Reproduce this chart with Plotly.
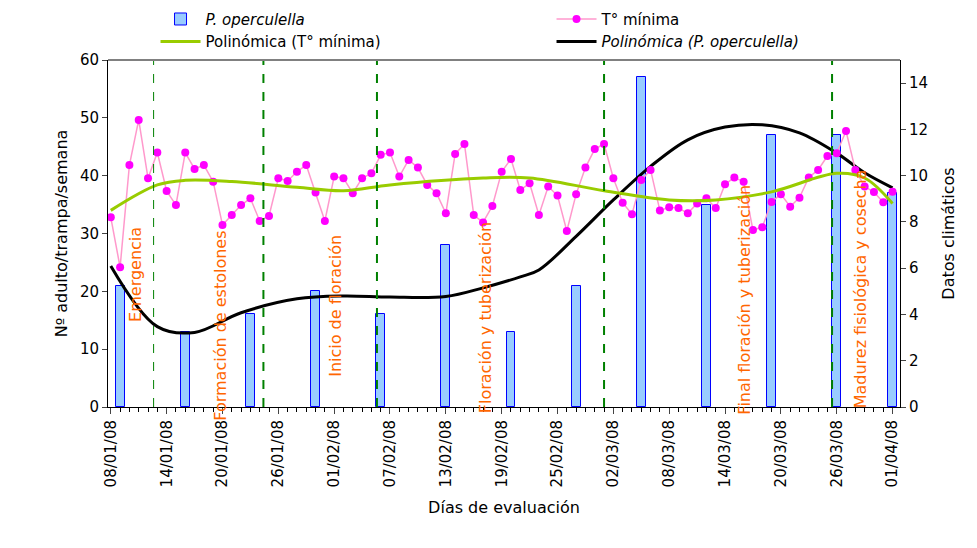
import plotly.graph_objects as go
import datetime as dt

start = dt.date(2008, 1, 8)
tick_days = list(range(0, 85, 6))
tick_labels = [(start + dt.timedelta(days=d)).strftime("%d/%m/%y")[:5] + "/08" for d in tick_days]

bar_days = [1, 8, 15, 22, 29, 36, 43, 50, 57, 64, 71, 78, 84]
bar_vals = [21, 13, 16, 20, 16, 28, 13, 21, 57, 35, 47, 47, 37]

tmin = [8.2, 6.04, 10.46, 12.41, 9.89, 11.0, 9.34, 8.73, 11.0, 10.29, 10.46, 9.74, 7.87, 8.3, 8.73,
        9.02, 8.04, 8.26, 9.89, 9.77, 10.17, 10.46, 9.27, 8.04, 9.96, 9.89, 9.24, 9.89, 10.1, 10.9,
        11.0, 9.96, 10.68, 10.35, 9.6, 9.24, 8.37, 10.94, 11.37, 8.3, 7.98, 8.69, 10.17, 10.72, 9.38,
        9.67, 8.3, 9.53, 9.14, 7.61, 9.2, 10.35, 11.15, 11.37, 9.89, 8.83, 8.33, 9.81, 10.25, 8.49,
        8.63, 8.6, 8.37, 8.8, 9.02, 8.6, 9.63, 9.92, 9.74, 7.65, 7.77, 8.86, 9.2, 8.66, 9.05,
        9.92, 10.25, 10.85, 10.97, 11.93, 10.25, 9.53, 9.29, 8.85, 9.3]
tmin_days = list(range(len(tmin)))

poly_t_days = [0, 5, 8, 13, 20, 25, 30, 40, 45, 53, 60, 65, 71, 78, 81, 84]
poly_t_vals = [8.5, 9.6, 9.8, 9.75, 9.5, 9.35, 9.6, 9.9, 9.9, 9.35, 8.95, 8.95, 9.3, 10.1, 9.9, 8.8]

poly_p_days = [0, 5, 9, 14, 20, 25, 30, 36, 40, 44, 46, 50, 54, 58, 62, 66, 70, 74, 78, 81, 84]
poly_p_vals = [24.4, 13.9, 12.9, 16.3, 18.7, 19.2, 19.0, 19.1, 20.6, 22.5, 23.7, 29.5, 35.8, 41.6,
               46.2, 48.4, 48.8, 47.4, 43.9, 40.5, 37.9]

stage_days = [4.6, 16.4, 28.6, 53.0, 77.5]
stage_labels = ["Emergencia", "Formación de estolones", "Inicio de floración",
                "Floración y tuberización", "Final floración y tuberización",
                "Madurez fisiológica y cosecha"]
stage_label_days = [2.7, 11.7, 24.2, 40.3, 68.0, 80.6]
stage_label_y = [23, 14, 17.5, 15.5, 18.5, 20.5]

fig = go.Figure()
fig.add_trace(go.Bar(x=bar_days, y=bar_vals, width=0.95, name="<i>P. operculella</i>", legend="legend",
                     marker=dict(color="#99CCFF", line=dict(color="#0000FF", width=1))))
fig.add_trace(go.Scatter(x=tmin_days, y=tmin, yaxis="y2", mode="lines+markers", name="T° mínima",
                         legend="legend2", line=dict(color="#FF99CC", width=1.5),
                         marker=dict(color="#FF00FF", size=8)))
fig.add_trace(go.Scatter(x=poly_t_days, y=poly_t_vals, yaxis="y2", mode="lines", legend="legend",
                         name="Polinómica (T° mínima)", line=dict(color="#99CC00", width=3, shape="spline")))
fig.add_trace(go.Scatter(x=poly_p_days, y=poly_p_vals, mode="lines", legend="legend2",
                         name="<i>Polinómica (P. operculella)</i>", line=dict(color="black", width=3, shape="spline")))

for i, d in enumerate(stage_days):
    fig.add_shape(type="line", x0=d, x1=d, y0=0, y1=60, xref="x", yref="y",
                  line=dict(color="#008000", width=1 if i == 0 else 2, dash="dash"))
for t, d, y in zip(stage_labels, stage_label_days, stage_label_y):
    fig.add_annotation(x=d, y=y, text=t, textangle=-90, showarrow=False,
                       font=dict(color="#FF6600", size=16))

font = "DejaVu Sans, Verdana, sans-serif"
leg = dict(orientation="v", yanchor="top", y=1.165, xanchor="left", font=dict(size=15),
           bgcolor="rgba(0,0,0,0)", tracegroupgap=0, itemwidth=40, traceorder="normal")
fig.update_layout(
    width=977, height=548, margin=dict(l=100, r=85, t=52, b=149, autoexpand=False),
    plot_bgcolor="white", paper_bgcolor="white", font=dict(family=font, size=15, color="black"),
    bargap=0,
    legend=dict(leg, x=0.06),
    legend2=dict(leg, x=0.56),
    xaxis=dict(range=[-0.3, 84.8], tickvals=tick_days, ticktext=tick_labels, tickangle=-90,
               showgrid=False, showline=True, linecolor="black", mirror=False, ticks="outside",
               ticklen=6, minor=dict(dtick=1, ticks="outside", ticklen=4, tickcolor="black"),
               title=dict(text="Días de evaluación", font=dict(size=16)), zeroline=False,
               automargin=False),
    yaxis=dict(range=[0, 60], dtick=10, showgrid=False, showline=True, linecolor="black",
               ticks="outside", zeroline=False, automargin=False,
               title=dict(text="Nº adulto/trampa/semana", font=dict(size=16), standoff=8)),
    yaxis2=dict(range=[0, 15], tickvals=list(range(0, 15, 2)), overlaying="y", side="right",
                showgrid=False, showline=True, linecolor="black", ticks="outside", zeroline=False,
                automargin=False, title=dict(text="Datos climáticos", font=dict(size=16))),
)
fig.add_shape(type="line", xref="paper", yref="paper", x0=0, x1=1, y0=1, y1=1,
              line=dict(color="gray", width=2))
fig.write_html("out.html")
